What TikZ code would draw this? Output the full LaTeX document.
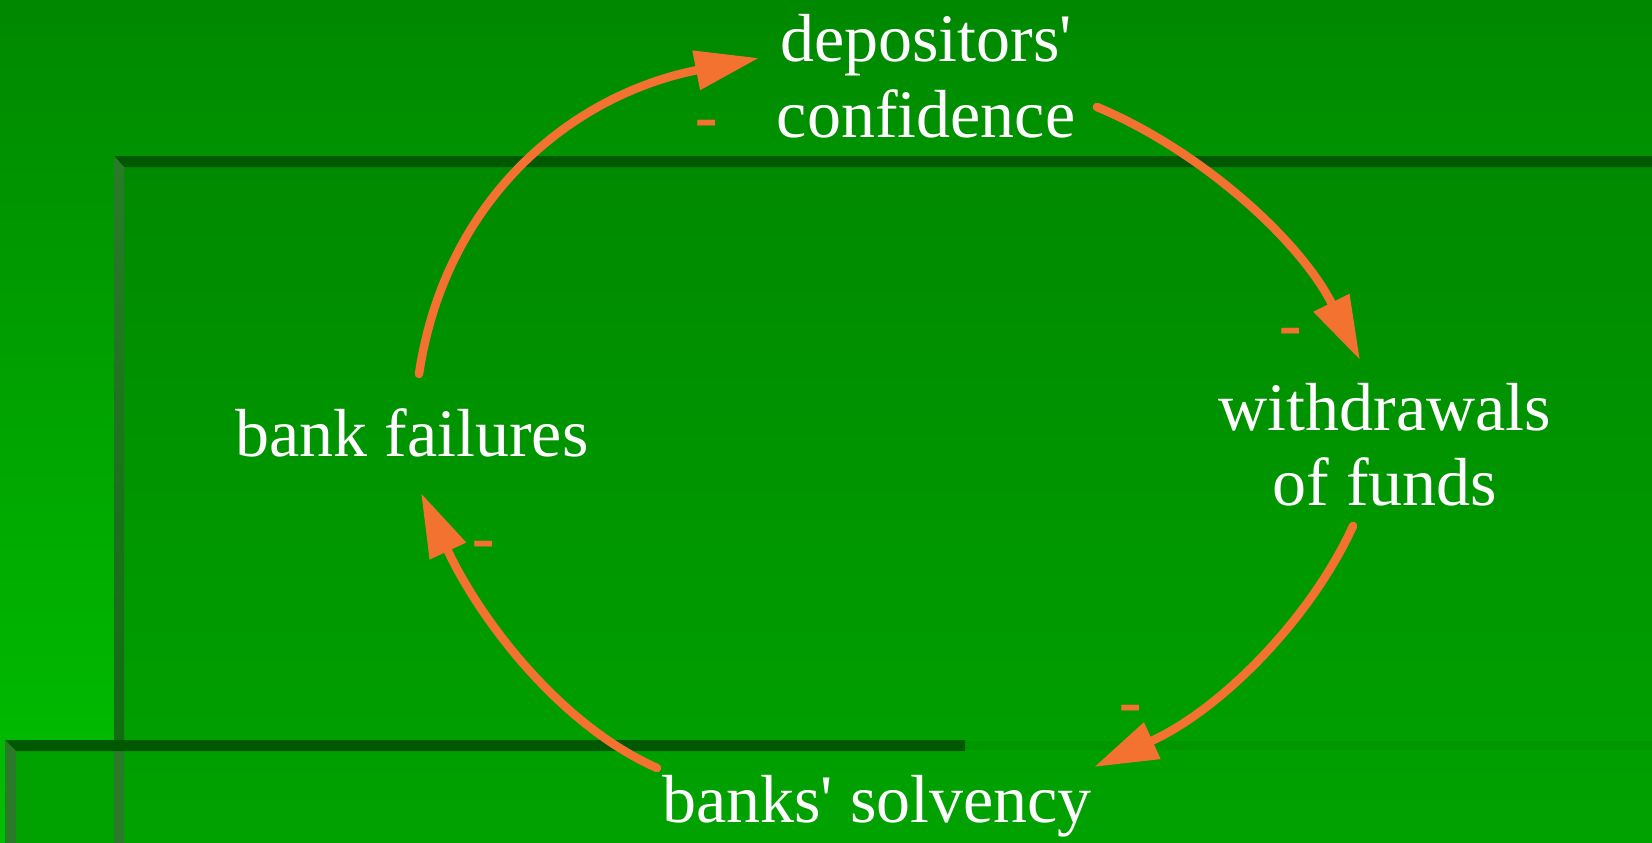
\documentclass[tikz,border=0pt]{standalone}
\usepackage{fontspec}
\setmainfont{Liberation Serif}[Ligatures=NoCommon]
\newfontfamily\minusfont{Liberation Sans}
\usetikzlibrary{arrows.meta}
\definecolor{orng}{RGB}{244,114,48}
\definecolor{outtop}{RGB}{0,136,0}
\definecolor{outbot}{RGB}{0,192,0}
\definecolor{intop}{RGB}{0,138,0}
\definecolor{inbot}{RGB}{0,162,0}
\definecolor{band}{RGB}{0,88,0}
\definecolor{faintband}{RGB}{0,150,0}
\definecolor{bevlight}{RGB}{42,122,42}
\definecolor{bevdark}{RGB}{18,108,18}
\tikzset{
  lbl/.style={anchor=base, inner sep=0pt, text=white, font=\fontsize{68}{75}\selectfont},
  minuslbl/.style={anchor=base, inner sep=0pt, text=orng, font=\minusfont\fontsize{73}{73}\selectfont},
  link/.style={draw=orng, line width=8.5pt, line cap=round, -{Triangle[length=64pt,width=38pt]}}
}
\begin{document}
\begin{tikzpicture}[x=1pt,y=-1pt]
\useasboundingbox (0,0) rectangle (1652,843);
% background
\shade[top color=outtop, bottom color=outbot] (0,0) rectangle (1652,843);
% upper panel
\shade[top color=intop, bottom color=inbot] (124,167) rectangle (1652,843);
\fill[band] (114,156) -- (1652,156) -- (1652,167) -- (124,167) -- cycle;
\shade[top color=bevlight, bottom color=bevdark] (114,156) -- (124,167) -- (124,740) -- (114,740) -- cycle;
% lower panel
\fill[inbot] (16,751) rectangle (114,843);
\fill[bevlight] (114,751) rectangle (124,843);
\fill[faintband] (965,741) rectangle (1652,750);
\fill[band] (5,740) -- (965,740) -- (965,751) -- (16,751) -- cycle;
\fill[bevlight] (5,740) -- (16,751) -- (16,843) -- (5,843) -- cycle;
% texts
\node[lbl] (dep) at (926,62) {depositors\textquotesingle};
\node[lbl] (conf) at (926,137) {confidence};
\node[lbl] (wd) at (1385,430) {withdrawals};
\node[lbl] (of) at (1385,505) {of funds};
\node[lbl] (bs) at (877,822) {banks\textquotesingle{} solvency};
\node[lbl] (bf) at (412,456) {bank failures};
% connector ends
\coordinate (a1s) at (419,374); \coordinate (a1e) at (759,58);
\coordinate (a2s) at (1097,107); \coordinate (a2e) at (1360,360);
\coordinate (a3s) at (1353,526); \coordinate (a3e) at (1094,767);
\coordinate (a4s) at (657,768); \coordinate (a4e) at (421,493);
\draw[link] (a1s) .. controls (445,200) and (570,95) .. (a1e);
\draw[link] (a2s) .. controls (1200,150) and (1300,240) .. (a2e);
\draw[link] (a3s) .. controls (1310,620) and (1220,710) .. (a3e);
\draw[link] (a4s) .. controls (560,725) and (480,620) .. (a4e);
% signs
\node[minuslbl] (m1) at (707,142) {-};
\node[minuslbl] (m2) at (1291,350) {-};
\node[minuslbl] (m3) at (1131,727) {-};
\node[minuslbl] (m4) at (484,563) {-};
\end{tikzpicture}
\end{document}
